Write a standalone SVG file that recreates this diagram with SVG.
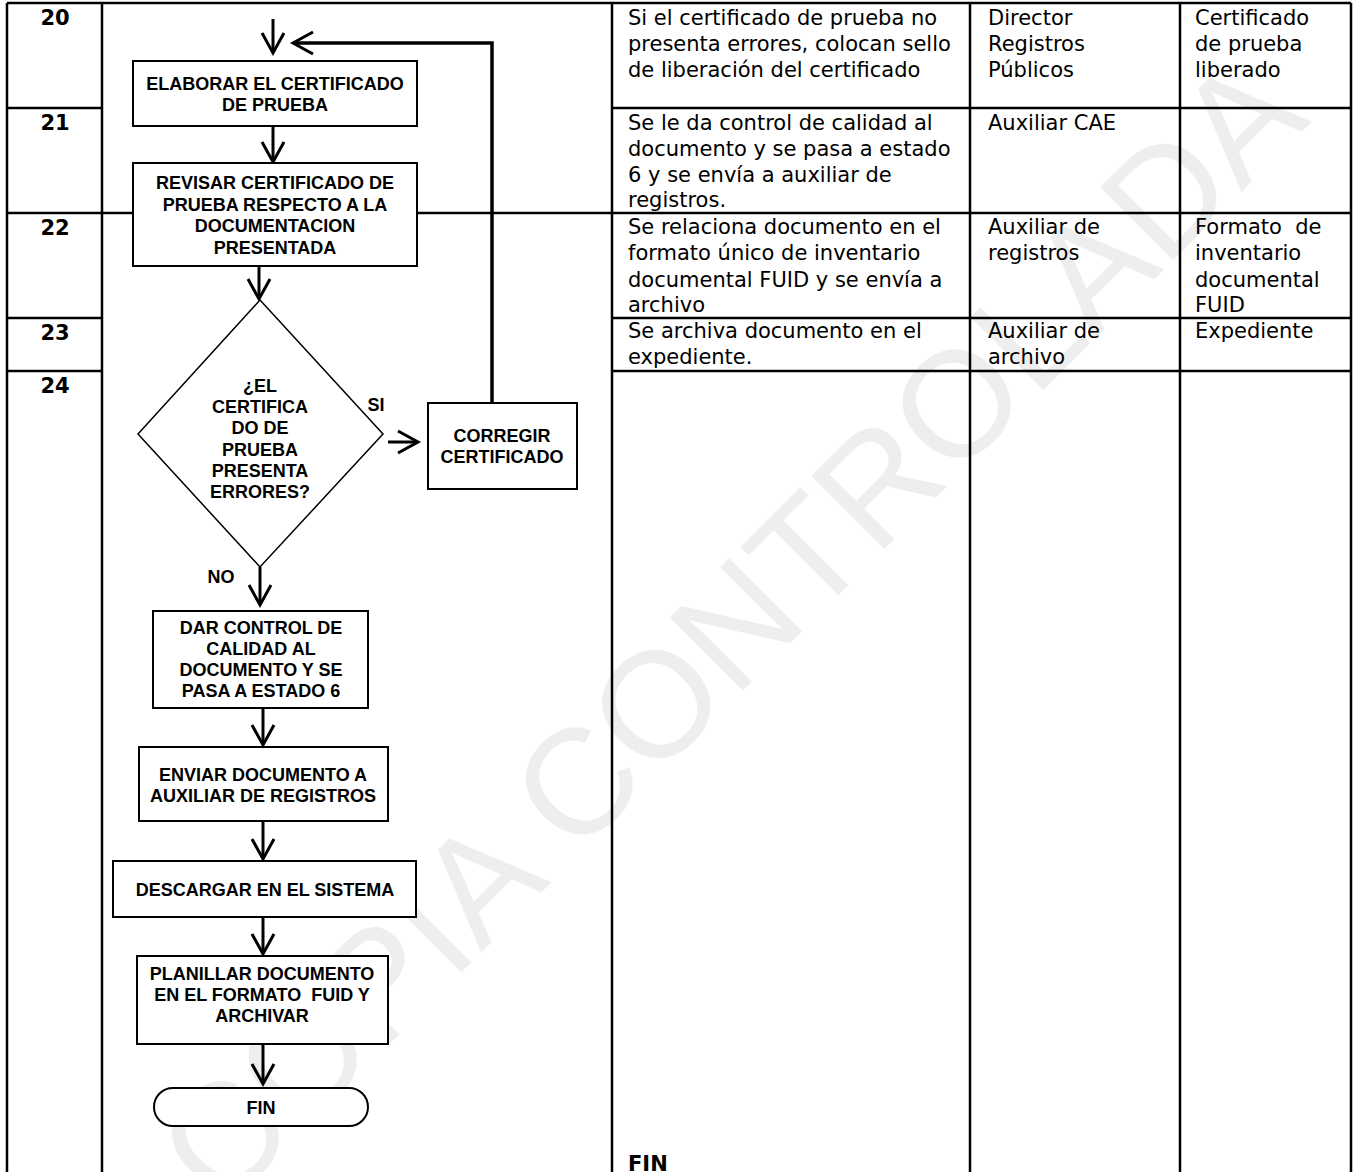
<svg xmlns="http://www.w3.org/2000/svg" width="1354" height="1172" viewBox="0 0 1354 1172">
<style>
.wm{font-family:"Liberation Sans",Arial,sans-serif;font-size:150px;fill:#eeeeee}
.tbl{stroke:#000;stroke-width:2.5;fill:none}
.box{fill:#fff;stroke:#000;stroke-width:2}
.dia{fill:#fff;stroke:#000;stroke-width:1.5}
.fc{font-family:"Liberation Sans",Arial,sans-serif;font-weight:bold;font-size:18px;text-anchor:middle;fill:#000}
.num{font-family:"DejaVu Sans",Verdana,sans-serif;font-weight:bold;font-size:21px;text-anchor:middle;fill:#000}
.cell{font-family:"DejaVu Sans",Verdana,sans-serif;font-size:21px;fill:#000;white-space:pre}
.conn{stroke:#000;stroke-width:3;fill:none}
.ret{stroke:#000;stroke-width:3.5;fill:none}
</style>
<defs>
<marker id="chev" markerUnits="userSpaceOnUse" markerWidth="32" markerHeight="32" viewBox="0 0 32 32" refX="25" refY="16" orient="auto" overflow="visible">
<path d="M5,5 L25,16 L5,27" fill="none" stroke="#000" stroke-width="3"/>
</marker>
</defs>
<rect width="1354" height="1172" fill="#fff"/>
<text class="wm" x="730" y="630" text-anchor="middle" dominant-baseline="central" transform="rotate(-45 730 630)">COPIA CONTROLADA</text>

<g id="table">
<line class="tbl" x1="7" y1="3" x2="1351" y2="3"/>
<line class="tbl" x1="7" y1="3" x2="7" y2="1172"/>
<line class="tbl" x1="102" y1="3" x2="102" y2="1172"/>
<line class="tbl" x1="612" y1="3" x2="612" y2="1172"/>
<line class="tbl" x1="970" y1="3" x2="970" y2="1172"/>
<line class="tbl" x1="1180" y1="3" x2="1180" y2="1172"/>
<line class="tbl" x1="1351" y1="3" x2="1351" y2="1172"/>
<line class="tbl" x1="7" y1="108" x2="102" y2="108"/>
<line class="tbl" x1="612" y1="108" x2="1351" y2="108"/>
<line class="tbl" x1="7" y1="213" x2="1351" y2="213"/>
<line class="tbl" x1="7" y1="318" x2="102" y2="318"/>
<line class="tbl" x1="612" y1="318" x2="1351" y2="318"/>
<line class="tbl" x1="7" y1="371" x2="102" y2="371"/>
<line class="tbl" x1="612" y1="371" x2="1351" y2="371"/>
<text class="num" x="55" y="25">20</text>
<text class="num" x="55" y="130">21</text>
<text class="num" x="55" y="235">22</text>
<text class="num" x="55" y="340">23</text>
<text class="num" x="55" y="393">24</text>
<text class="cell" x="628" y="25">Si el certificado de prueba no</text>
<text class="cell" x="628" y="51">presenta errores, colocan sello</text>
<text class="cell" x="628" y="77">de liberación del certificado</text>
<text class="cell" x="628" y="130">Se le da control de calidad al</text>
<text class="cell" x="628" y="156">documento y se pasa a estado</text>
<text class="cell" x="628" y="182">6 y se envía a auxiliar de</text>
<text class="cell" x="628" y="207">registros.</text>
<text class="cell" x="628" y="234">Se relaciona documento en el</text>
<text class="cell" x="628" y="260">formato único de inventario</text>
<text class="cell" x="628" y="287">documental FUID y se envía a</text>
<text class="cell" x="628" y="312">archivo</text>
<text class="cell" x="628" y="338">Se archiva documento en el</text>
<text class="cell" x="628" y="364">expediente.</text>
<text class="cell" x="628" y="1171" font-weight="bold">FIN</text>
<text class="cell" x="988" y="25">Director</text>
<text class="cell" x="988" y="51">Registros</text>
<text class="cell" x="988" y="77">Públicos</text>
<text class="cell" x="988" y="130">Auxiliar CAE</text>
<text class="cell" x="988" y="234">Auxiliar de</text>
<text class="cell" x="988" y="260">registros</text>
<text class="cell" x="988" y="338">Auxiliar de</text>
<text class="cell" x="988" y="364">archivo</text>
<text class="cell" x="1195" y="25">Certificado</text>
<text class="cell" x="1195" y="51">de prueba</text>
<text class="cell" x="1195" y="77">liberado</text>
<text class="cell" x="1195" y="234">Formato  de</text>
<text class="cell" x="1195" y="260">inventario</text>
<text class="cell" x="1195" y="287">documental</text>
<text class="cell" x="1195" y="312">FUID</text>
<text class="cell" x="1195" y="338">Expediente</text>
</g>

<g id="connectors">
<line class="conn" x1="273" y1="19" x2="273" y2="53" marker-end="url(#chev)"/>
<path class="ret" d="M492,403 L492,43 L293,43" marker-end="url(#chev)"/>
<line class="conn" x1="273" y1="126" x2="273" y2="162" marker-end="url(#chev)"/>
<line class="conn" x1="259" y1="266" x2="259" y2="299" marker-end="url(#chev)"/>
<line class="conn" x1="388" y1="442" x2="418" y2="442" marker-end="url(#chev)"/>
<line class="conn" x1="260" y1="567" x2="260" y2="605" marker-end="url(#chev)"/>
<line class="conn" x1="263" y1="708" x2="263" y2="745" marker-end="url(#chev)"/>
<line class="conn" x1="263" y1="821" x2="263" y2="859" marker-end="url(#chev)"/>
<line class="conn" x1="263" y1="917" x2="263" y2="954" marker-end="url(#chev)"/>
<line class="conn" x1="263" y1="1044" x2="263" y2="1084" marker-end="url(#chev)"/>
<text class="fc" x="376" y="411">SI</text>
<text class="fc" x="221" y="583">NO</text>
</g>

<g id="n-elaborar">
<rect class="box" x="133" y="61" width="284" height="65"/>
<text class="fc" x="275" y="90">ELABORAR EL CERTIFICADO</text>
<text class="fc" x="275" y="111">DE PRUEBA</text>
</g>
<g id="n-revisar">
<rect class="box" x="133" y="163" width="284" height="103"/>
<text class="fc" x="275" y="189">REVISAR CERTIFICADO DE</text>
<text class="fc" x="275" y="211">PRUEBA RESPECTO A LA</text>
<text class="fc" x="275" y="232">DOCUMENTACION</text>
<text class="fc" x="275" y="254">PRESENTADA</text>
</g>
<g id="n-decision">
<polygon class="dia" points="260,300 383,434 260,567 138,434"/>
<text class="fc" x="260" y="392">¿EL</text>
<text class="fc" x="260" y="413">CERTIFICA</text>
<text class="fc" x="260" y="434">DO DE</text>
<text class="fc" x="260" y="456">PRUEBA</text>
<text class="fc" x="260" y="477">PRESENTA</text>
<text class="fc" x="260" y="498">ERRORES?</text>
</g>
<g id="n-corregir">
<rect class="box" x="428" y="403" width="149" height="86"/>
<text class="fc" x="502" y="442">CORREGIR</text>
<text class="fc" x="502" y="463">CERTIFICADO</text>
</g>
<g id="n-dar">
<rect class="box" x="153" y="611" width="215" height="97"/>
<text class="fc" x="261" y="634">DAR CONTROL DE</text>
<text class="fc" x="261" y="655">CALIDAD AL</text>
<text class="fc" x="261" y="676">DOCUMENTO Y SE</text>
<text class="fc" x="261" y="697">PASA A ESTADO 6</text>
</g>
<g id="n-enviar">
<rect class="box" x="139" y="747" width="249" height="74"/>
<text class="fc" x="263" y="781">ENVIAR DOCUMENTO A</text>
<text class="fc" x="263" y="802">AUXILIAR DE REGISTROS</text>
</g>
<g id="n-descargar">
<rect class="box" x="113" y="861" width="303" height="56"/>
<text class="fc" x="265" y="896">DESCARGAR EN EL SISTEMA</text>
</g>
<g id="n-planillar">
<rect class="box" x="137" y="956" width="251" height="88"/>
<text class="fc" x="262" y="980">PLANILLAR DOCUMENTO</text>
<text class="fc" x="262" y="1001" style="white-space:pre">EN EL FORMATO  FUID Y</text>
<text class="fc" x="262" y="1022">ARCHIVAR</text>
</g>
<g id="n-fin">
<rect class="box" x="154" y="1088" width="214" height="38" rx="19" ry="19"/>
<text class="fc" x="261" y="1114">FIN</text>
</g>
</svg>
